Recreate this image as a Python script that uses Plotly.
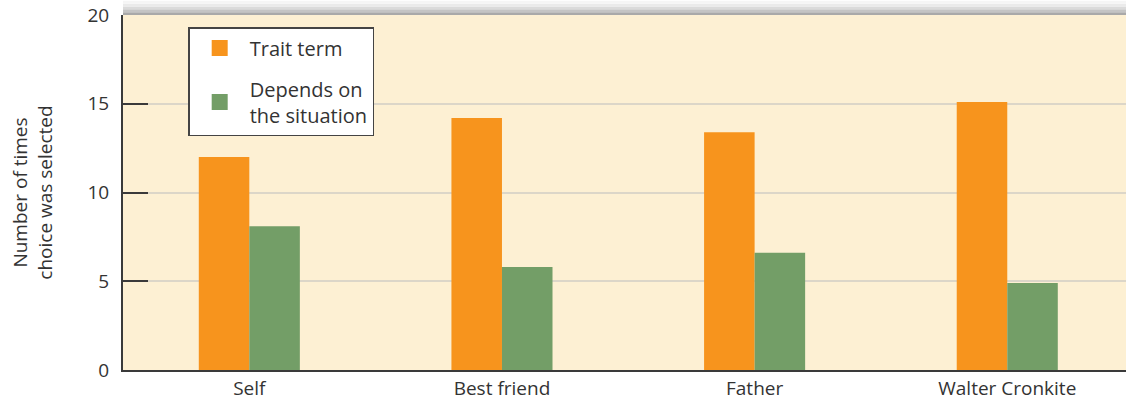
import plotly.graph_objects as go

categories = ["Self", "Best friend", "Father", "Walter Cronkite"]
trait_term = [12.0, 14.2, 13.4, 15.1]
depends = [8.1, 5.8, 6.6, 4.9]
y_ticks = [0, 5, 10, 15, 20]
series_names = ["Trait term", "Depends on<br>the situation"]
series_colors = ["#F7941D", "#739E67"]

FONT = "Open Sans"
TXT = "#333333"
fig = go.Figure()
for vals, name, col in zip([trait_term, depends], series_names, series_colors):
    fig.add_trace(go.Bar(x=categories, y=vals, name=name, showlegend=False,
                         marker=dict(color=col, line=dict(width=0))))
# legend entries with larger square swatches
for i, (name, col) in enumerate(zip(series_names, series_colors)):
    fig.add_trace(go.Scatter(x=[None], y=[None], mode="markers", name=name,
                             legendgroup=f"g{i}",
                             marker=dict(symbol="square", size=20, color=col)))

# soft shadow above the plot area
shade = ["#A9A9A9", "#C4C4C4", "#DADADA", "#EAEAEA", "#F5F5F5"]
for i, c in enumerate(shade):
    fig.add_shape(type="rect", xref="paper", yref="paper",
                  x0=0.0, x1=1.0, y0=1.0 + i * 0.008, y1=1.0 + (i + 1) * 0.008,
                  fillcolor=c, line=dict(width=0), layer="below")

fig.update_layout(
    width=1126, height=405,
    margin=dict(l=123, r=0, t=15, b=35, pad=0),
    paper_bgcolor="white",
    plot_bgcolor="#FDF0D3",
    barmode="group",
    bargap=0.6,
    bargroupgap=0,
    font=dict(family=FONT, size=19, color=TXT),
    showlegend=True,
    legend=dict(
        x=0.065, y=0.966, xanchor="left", yanchor="top",
        bgcolor="white", bordercolor="#444444", borderwidth=1.5,
        font=dict(family=FONT, size=20, color=TXT),
        itemsizing="trace", itemwidth=50, tracegroupgap=12, entrywidth=235,
    ),
    xaxis=dict(
        range=[-0.5, 3.47], automargin=False,
        showline=True, linecolor="#3a3a3a", linewidth=2,
        ticks="", showgrid=False,
        tickfont=dict(family=FONT, size=19, color=TXT),
    ),
    yaxis=dict(
        range=[0, 20], automargin=False,
        tickvals=y_ticks,
        showline=True, linecolor="#3a3a3a", linewidth=2,
        ticks="inside", ticklen=25, tickwidth=2, tickcolor="#3a3a3a",
        showgrid=True, gridcolor="#DCD6C8", gridwidth=1.5,
        zeroline=False,
        tickfont=dict(family=FONT, size=19, color=TXT),
        ticklabelstandoff=8,
        title=dict(text="Number of times<br>choice was selected",
                   font=dict(family=FONT, size=19, color=TXT),
                   standoff=30),
    ),
)

fig.write_html("out.html", config={"displayModeBar": False},
               post_script="document.body.style.margin='0';")
